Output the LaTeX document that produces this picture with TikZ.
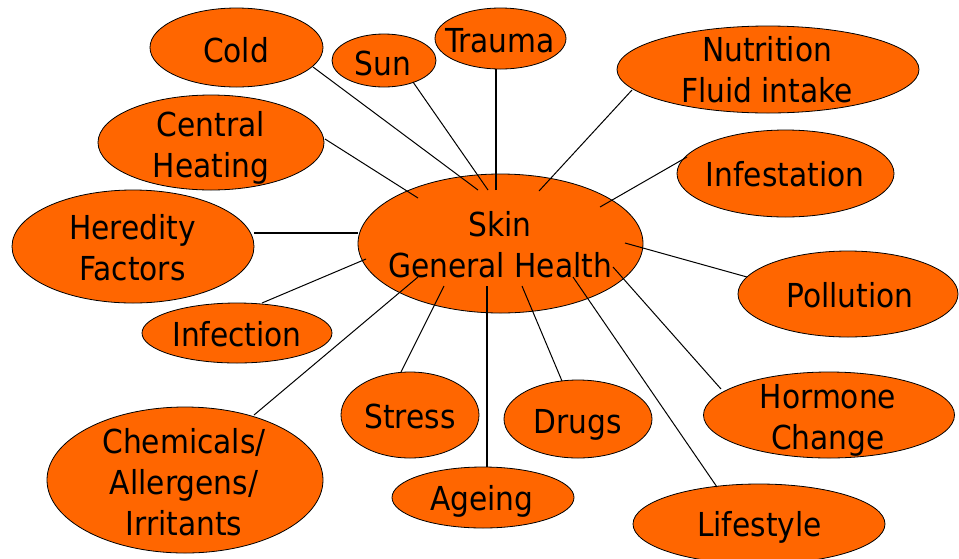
\documentclass[tikz,border=0pt]{standalone}
\usepackage{fontspec}
\setmainfont{DejaVu Sans Condensed}
\usetikzlibrary{shapes.geometric,calc}
\definecolor{bubfill}{HTML}{FF6600}
\tikzset{
  bub/.style={ellipse, draw=black, line width=0.8pt, fill=bubfill, inner sep=0pt, outer sep=0pt},
  txt/.style={anchor=base, align=center, inner sep=0pt, font=\fontsize{33}{41}\selectfont},
  thin/.style={draw=black, line width=1pt},
  thick/.style={draw=black, line width=2.6pt},
}
\begin{document}
\begin{tikzpicture}[x=1pt,y=-1pt]
\useasboundingbox (0,0) rectangle (959,558);
% bubbles
\node[bub, minimum width=285pt, minimum height=139pt] (c) at (500.5,243.5) {};
\node[bub, minimum width=173pt, minimum height=79pt] (cold) at (236.5,47.5) {};
\node[bub, minimum width=104pt, minimum height=53pt] (sun) at (384,60.5) {};
\node[bub, minimum width=131pt, minimum height=61pt] (trauma) at (500.5,38.5) {};
\node[bub, minimum width=302pt, minimum height=87pt] (nutr) at (768,69.5) {};
\node[bub, minimum width=226pt, minimum height=95pt] (heat) at (211,142.5) {};
\node[bub, minimum width=217pt, minimum height=87pt] (infest) at (785.5,173.5) {};
\node[bub, minimum width=242pt, minimum height=113pt] (hered) at (133,246.5) {};
\node[bub, minimum width=220pt, minimum height=86pt] (poll) at (848,294) {};
\node[bub, minimum width=190pt, minimum height=60pt] (infect) at (237,333) {};
\node[bub, minimum width=138pt, minimum height=86pt] (stress) at (410,415) {};
\node[bub, minimum width=148pt, minimum height=78pt] (drugs) at (578,419) {};
\node[bub, minimum width=251pt, minimum height=86pt] (hormone) at (829,415) {};
\node[bub, minimum width=276pt, minimum height=146pt] (chem) at (185,480) {};
\node[bub, minimum width=182pt, minimum height=61pt] (ageing) at (483,497.5) {};
\node[bub, minimum width=252pt, minimum height=80pt] (life) at (759,524) {};
% connectors
\draw[thin] ($(c)+(-22.5,-53.5)$) -- ($(cold)+(76.5,19.5)$);
\draw[thin] ($(c)+(-12.5,-53.5)$) -- ($(sun)+(29,21.5)$);
\draw[thick] ($(c)+(-4.5,-53.5)$) -- ($(trauma)+(-4.5,30.5)$);
\draw[thin] ($(c)+(38.5,-52.5)$) -- ($(nutr)+(-136,20.5)$);
\draw[thin] ($(c)+(-82.5,-45.5)$) -- ($(heat)+(114,-3.5)$);
\draw[thin] ($(c)+(99.5,-36.5)$) -- ($(infest)+(-98.5,-16.5)$);
\draw[thick] ($(c)+(-142.5,-10.5)$) -- ($(hered)+(121,-13.5)$);
\draw[thin] ($(c)+(124.5,-0.5)$) -- ($(poll)+(-101,-17)$);
\draw[thin] ($(c)+(-134.5,15.5)$) -- ($(infect)+(25,-30)$);
\draw[thin] ($(c)+(112.5,23.5)$) -- ($(hormone)+(-108,-26)$);
\draw[thin] ($(c)+(72.5,33.5)$) -- ($(life)+(-42,-37)$);
\draw[thin] ($(c)+(-82.5,33.5)$) -- ($(chem)+(69,-65)$);
\draw[thin] ($(c)+(-56.5,42.5)$) -- ($(stress)+(-9,-43)$);
\draw[thin] ($(c)+(21.5,42.5)$) -- ($(drugs)+(-16,-38)$);
\draw[thick] ($(c)+(-13.5,42.5)$) -- ($(ageing)+(4,-30.5)$);
% texts (base anchor = baseline of last line)
\node[txt] (tc) at (500,277) {Skin\\General Health};
\node[txt] (tcold) at (236,62) {Cold};
\node[txt] (tsun) at (383,75) {Sun};
\node[txt] (ttrauma) at (500,52) {Trauma};
\node[txt] (tnutr) at (767,102) {Nutrition\\Fluid intake};
\node[txt] (theat) at (211,177) {Central\\Heating};
\node[txt] (tinfest) at (785,186) {Infestation};
\node[txt] (thered) at (132.5,280) {Heredity\\Factors};
\node[txt] (tpoll) at (850,307) {Pollution};
\node[txt] (tinfect) at (237,346) {Infection};
\node[txt] (tstress) at (410,428) {Stress};
\node[txt] (tdrugs) at (578,433) {Drugs};
\node[txt] (thormone) at (828,449) {Hormone\\Change};
\node[txt] (tchem) at (184,535) {Chemicals/\\Allergens/\\Irritants};
\node[txt] (tageing) at (482,510) {Ageing};
\node[txt] (tlife) at (759.5,536) {Lifestyle};
\end{tikzpicture}
\end{document}
